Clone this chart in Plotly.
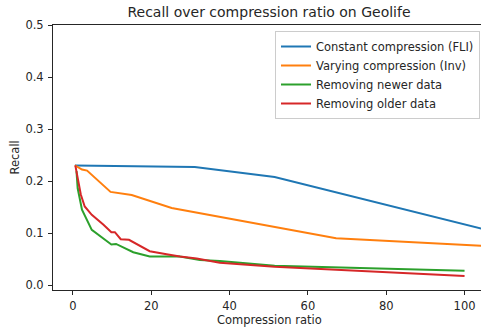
import plotly.graph_objects as go

# Data
blue_x = [0.5, 31.1, 51.5, 120]
blue_y = [0.230, 0.227, 0.2076, 0.079]

orange_x = [0.5, 2.3, 3.6, 9.6, 15.0, 25.2, 67.2, 120]
orange_y = [0.230, 0.222, 0.220, 0.179, 0.173, 0.148, 0.090, 0.069]

green_x = [0.9, 1.2, 2.3, 4.8, 9.8, 11.0, 15.4, 19.6, 23.9, 27.3, 32.4, 37.5, 51.5, 100]
green_y = [0.219, 0.186, 0.145, 0.106, 0.078, 0.079, 0.063, 0.055, 0.055, 0.0546, 0.048, 0.046, 0.037, 0.0276]

red_x = [0.6, 1.45, 2.0, 3.0, 4.8, 7.8, 9.8, 10.7, 12.2, 14.3, 19.6, 23.9, 27.3, 31.6, 37.5, 51.5, 100]
red_y = [0.230, 0.196, 0.174, 0.151, 0.135, 0.116, 0.1016, 0.1016, 0.088, 0.087, 0.065, 0.059, 0.0546, 0.051, 0.043, 0.035, 0.0174]

names = ["Constant compression (FLI)", "Varying compression (Inv)",
         "Removing newer data", "Removing older data"]
colors = ["#1f77b4", "#ff7f0e", "#2ca02c", "#d62728"]

x_ticks = [0, 20, 40, 60, 80, 100]
y_ticks = [0.0, 0.1, 0.2, 0.3, 0.4, 0.5]

W, H = 481, 327
L, R, T, B = 53, 0, 25, 37

fig = go.Figure()
for xs, ys, n, c in zip([blue_x, orange_x, green_x, red_x],
                        [blue_y, orange_y, green_y, red_y], names, colors):
    fig.add_trace(go.Scatter(x=xs, y=ys, mode="lines", name=n,
                             line=dict(color=c, width=2)))

font = "DejaVu Sans"
fs = 11.5
axis_common = dict(showgrid=False, zeroline=False, showline=True, linecolor="#262626",
                   linewidth=1, ticks="outside", ticklen=4, tickcolor="#262626",
                   tickfont=dict(family=font, size=fs, color="#262626"))

fig.update_layout(
    width=W, height=H,
    margin=dict(l=L, r=R, t=T, b=B, pad=0),
    paper_bgcolor="white", plot_bgcolor="white",
    font=dict(family=font, color="#262626"),
    title=dict(text="Recall over compression ratio on Geolife", x=(269 - L) / (W - L - R),
               xref="paper", xanchor="center", y=1 - 12 / H, yanchor="middle",
               font=dict(family=font, size=14, color="#262626")),
    xaxis=dict(range=[-5.1, 104.2], tickvals=x_ticks, mirror=True, ticklabelstandoff=1,
               **axis_common),
    yaxis=dict(range=[-0.0096, 0.5], tickvals=y_ticks, tickformat=".1f", ticklabelstandoff=2,
               **axis_common),
    showlegend=True,
    legend=dict(x=(480 - L) / (W - L - R), xanchor="right", y=(H - B - 31) / (H - T - B),
                yanchor="top", bgcolor="rgba(255,255,255,0.8)", bordercolor="#cccccc",
                borderwidth=1, font=dict(family=font, size=fs, color="#262626"),
                tracegroupgap=0),
    annotations=[
        dict(text="Compression ratio", x=(269 - L) / (W - L - R), xref="paper",
             y=-(319.5 - (H - B)) / (H - T - B), yref="paper", showarrow=False,
             xanchor="center", yanchor="middle", font=dict(family=font, size=fs, color="#262626")),
        dict(text="Recall", x=-(53 - 14) / (W - L - R), xref="paper", y=0.5, yref="paper",
             textangle=-90, showarrow=False, xanchor="center", yanchor="middle",
             font=dict(family=font, size=fs, color="#262626")),
    ],
)

fig.write_html("out.html")
